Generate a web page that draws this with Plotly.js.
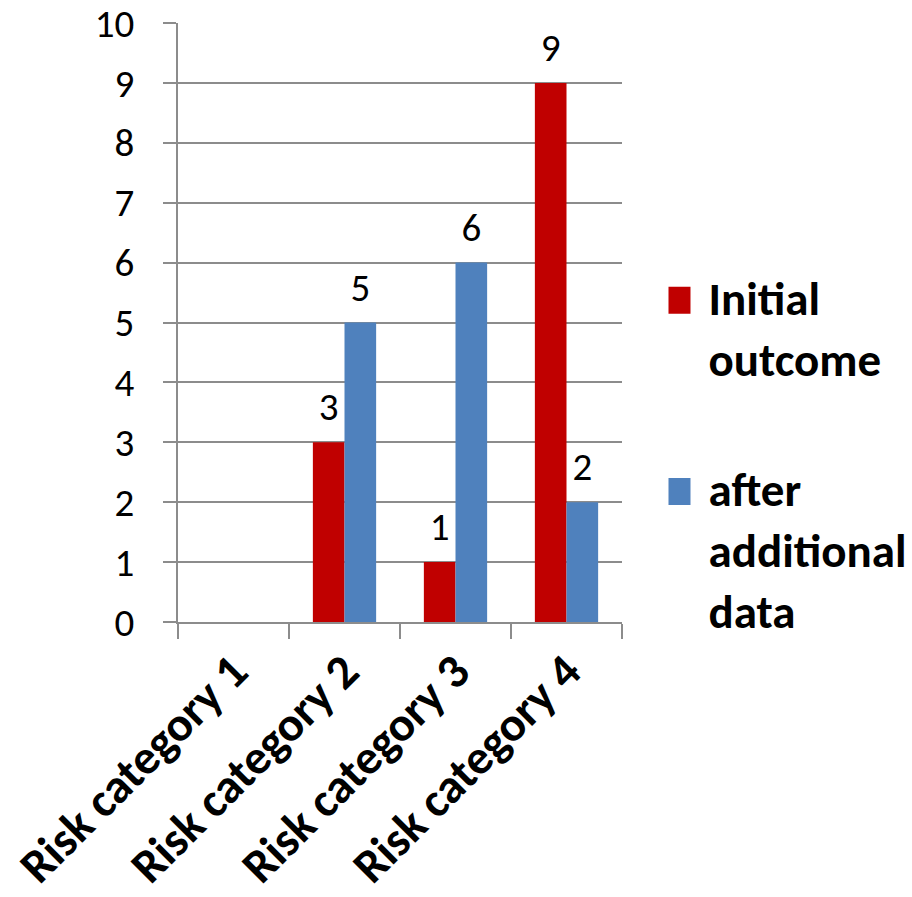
<!DOCTYPE html>
<html>
<head>
<meta charset="utf-8">
<script src="https://cdn.plot.ly/plotly-3.0.1.min.js"></script>
<style>html,body{margin:0;padding:0;background:#fff;}#chart{width:912px;height:897px;}</style>
</head>
<body>
<div id="chart"></div>
<script>
const categories = ["Risk category 1", "Risk category 2", "Risk category 3", "Risk category 4"];
const initialOutcome = [null, 3, 1, 9];
const afterAdditional = [null, 5, 6, 2];
const seriesNames = ["Initial<br>outcome", "after<br>additional<br>data"];
const yTicks = [0, 1, 2, 3, 4, 5, 6, 7, 8, 9, 10];

const FONT = "Carlito, Lato, 'Liberation Sans', sans-serif";
const GRID = "#8c8c8c";

const traces = [
  {
    type: "bar", name: seriesNames[0], x: categories, y: initialOutcome,
    marker: {color: "#C00000"}, text: initialOutcome.map(v => v == null ? "" : String(v)),
    textposition: "outside", cliponaxis: false,
    textfont: {family: FONT, size: 39, color: "#000"}, legendgroup: "a"
  },
  {
    type: "bar", name: seriesNames[1], x: categories, y: afterAdditional,
    marker: {color: "#4F81BD"}, text: afterAdditional.map(v => v == null ? "" : String(v)),
    textposition: "outside", cliponaxis: false,
    textfont: {family: FONT, size: 39, color: "#000"}, legendgroup: "b"
  }
];

const layout = {
  width: 912, height: 897,
  margin: {l: 178, r: 290, t: 23, b: 275, pad: 0},
  paper_bgcolor: "#fff", plot_bgcolor: "#fff",
  font: {family: FONT, color: "#000"},
  barmode: "group", bargap: 0.43, bargroupgap: 0,
  showlegend: true,
  legend: {
    xref: "container", yref: "container",
    x: 0.733, xanchor: "left", y: 0.711, yanchor: "top",
    font: {family: FONT, size: 47, color: "#000", weight: "bold"},
    valign: "top", tracegroupgap: 66, traceorder: "grouped",
    bgcolor: "rgba(0,0,0,0)", borderwidth: 0
  },
  xaxis: {
    type: "category", tickson: "boundaries", ticks: "outside", ticklen: 15,
    tickcolor: GRID, tickwidth: 2, showline: true, linecolor: GRID, linewidth: 2,
    showgrid: false, tickangle: -45,
    tickfont: {family: FONT, size: 48, color: "#000", weight: "bold"}
  },
  yaxis: {
    range: [0, 10], tickvals: yTicks, ticktext: yTicks.map(String),
    ticks: "outside", ticklen: 13, tickcolor: GRID, tickwidth: 2,
    showline: true, linecolor: GRID, linewidth: 2,
    showgrid: true, gridcolor: GRID, gridwidth: 2, zeroline: false,
    tickfont: {family: FONT, size: 39, color: "#000"},
    ticklabelstandoff: 21, ticklabeloverflow: "allow"
  }
};

function fixUp(gd) {
  gd.querySelectorAll(".legendpoints path").forEach(p => {
    p.setAttribute("d", "M22,17.5H-5V-9.5H22Z");
    p.removeAttribute("transform");
    p.style.strokeWidth = "0";
  });
  gd.querySelectorAll(".bars text.bartext").forEach(t => {
    const tr = t.getAttribute("transform") || "";
    if (!tr.startsWith("translate(0,-9)")) t.setAttribute("transform", "translate(0,-9) " + tr);
  });
}

Plotly.newPlot("chart", traces, layout, {displayModeBar: false, staticPlot: true}).then(gd => {
  fixUp(gd);
  gd.on("plotly_afterplot", () => fixUp(gd));
  setTimeout(() => fixUp(gd), 50);
});
</script>
</body>
</html>
